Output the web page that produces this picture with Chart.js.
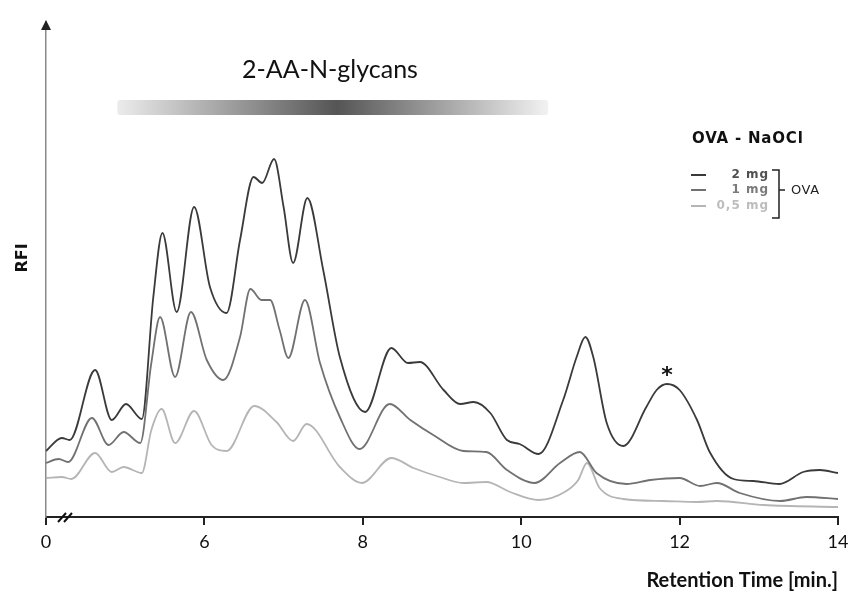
<!DOCTYPE html>
<html>
<head>
<meta charset="utf-8">
<script src="https://cdn.jsdelivr.net/npm/chart.js@4/dist/chart.umd.min.js"></script>
<style>
  html, body { margin: 0; padding: 0; background: #fff; }
  #wrap { width: 848px; height: 593px; }
</style>
</head>
<body>
<div id="wrap"><canvas id="hplcChart" width="848" height="593"></canvas></div>
<script>
// retention time in min; the axis is broken, so 4 is printed as "0"
const rt2mg = [4.0, 4.2, 4.3, 4.62, 4.83, 5.01, 5.21, 5.355, 5.47, 5.65, 5.87, 6.07, 6.28, 6.45, 6.62, 6.73, 6.88, 7.0, 7.12, 7.3, 7.5, 7.71, 8.03, 8.36, 8.57, 8.72, 9.02, 9.23, 9.4, 9.61, 9.82, 9.98, 10.22, 10.53, 10.7, 10.81, 10.91, 11.08, 11.29, 11.58, 11.71, 11.84, 12.0, 12.22, 12.38, 12.68, 12.93, 13.26, 13.56, 13.77, 14.0];
const rfi2mg = [66, 79, 77, 147, 97, 113, 98, 220, 284, 205, 310, 230, 204, 277, 340, 334, 358, 310, 254, 319, 247, 160, 105, 169, 154, 155, 127, 113, 115, 104, 77, 73, 63, 117, 160, 180, 160, 94, 71, 110, 127, 133, 127, 97, 65, 38, 36, 33, 45, 47, 44];

const rt1mg = [4.0, 4.16, 4.28, 4.58, 4.79, 4.98, 5.19, 5.33, 5.44, 5.63, 5.83, 6.03, 6.24, 6.45, 6.58, 6.72, 6.83, 6.95, 7.06, 7.27, 7.46, 7.71, 7.96, 8.34, 8.6, 8.89, 9.27, 9.56, 9.82, 10.17, 10.49, 10.74, 10.95, 11.33, 11.63, 12.0, 12.26, 12.47, 12.76, 13.27, 13.6, 14.0];
const rfi1mg = [54, 58, 55, 99, 72, 85, 74, 154, 200, 140, 205, 157, 137, 180, 228, 217, 217, 187, 159, 217, 154, 100, 68, 113, 97, 82, 66, 65, 47, 34, 54, 65, 44, 33, 37, 39, 31, 34, 24, 16, 20, 18];

const rt05mg = [4.0, 4.2, 4.32, 4.62, 4.83, 4.98, 5.21, 5.33, 5.46, 5.63, 5.87, 6.09, 6.28, 6.63, 6.91, 7.12, 7.29, 7.71, 7.99, 8.36, 8.64, 8.97, 9.27, 9.56, 9.86, 10.22, 10.57, 10.72, 10.83, 10.99, 11.29, 11.79, 12.22, 12.47, 13.06, 14.0];
const rfi05mg = [39, 40, 38, 64, 45, 50, 44, 87, 108, 74, 106, 72, 66, 111, 95, 76, 93, 50, 34, 59, 49, 40, 34, 35, 25, 17, 26, 37, 54, 29, 18, 16, 15, 16, 12, 10];

const tickValues = [4, 6, 8, 10, 12, 14];
const tickLabels = ['0', '6', '8', '10', '12', '14'];
const seriesNames = ['2 mg', '1 mg', '0,5 mg'];
const seriesColors = ['#3a3a3a', '#717171', '#b5b5b5'];
const legendTextColors = ['#505050', '#7a7a7a', '#bdbdbd'];
const markedPeak = { x: 11.84, y: 133 };

function toPoints(xs, ys) {
  return xs.map((x, i) => ({ x: x, y: ys[i] }));
}

const decorations = {
  id: 'decorations',
  afterDraw(chart) {
    const { ctx, chartArea, scales } = chart;
    const x = scales.x, y = scales.y;
    const left = chartArea.left, bottom = chartArea.bottom;
    ctx.save();

    // arrow head on the RFI axis
    ctx.fillStyle = '#222';
    ctx.beginPath();
    ctx.moveTo(left, 20);
    ctx.lineTo(left - 5, 30);
    ctx.lineTo(left + 5, 30);
    ctx.closePath();
    ctx.fill();

    // axis break
    ctx.strokeStyle = '#111';
    ctx.lineWidth = 2;
    [58, 64].forEach(bx => {
      ctx.beginPath();
      ctx.moveTo(bx, bottom + 5);
      ctx.lineTo(bx + 8, bottom - 4);
      ctx.stroke();
    });

    // y title
    ctx.fillStyle = '#111';
    ctx.font = 'bold 16px "DejaVu Sans"';
    ctx.textAlign = 'center';
    ctx.textBaseline = 'middle';
    ctx.translate(23, 258);
    ctx.rotate(-Math.PI / 2);
    ctx.fillText('RFI', 0, 0);
    ctx.setTransform(1, 0, 0, 1, 0, 0);

    // glycan elution window
    const gx0 = x.getPixelForValue(4.9), gx1 = x.getPixelForValue(10.34);
    const grad = ctx.createLinearGradient(gx0, 0, gx1, 0);
    grad.addColorStop(0, '#ececec');
    grad.addColorStop(0.51, '#555555');
    grad.addColorStop(1, '#f2f2f2');
    ctx.fillStyle = grad;
    ctx.beginPath();
    ctx.roundRect(gx0, 100, gx1 - gx0, 15, 3);
    ctx.fill();

    ctx.fillStyle = '#111';
    ctx.font = '25px Lato';
    ctx.textAlign = 'center';
    ctx.textBaseline = 'alphabetic';
    ctx.fillText('2-AA-N-glycans', 330, 78);

    // legend
    ctx.textAlign = 'left';
    ctx.textBaseline = 'middle';
    ctx.font = 'bold 15px "DejaVu Sans"';
    ctx.letterSpacing = '0.8px';
    ctx.fillText('OVA - NaOCl', 692, 139);
    const rows = [175, 190, 206];
    chart.data.datasets.forEach((ds, i) => {
      ctx.strokeStyle = ds.borderColor;
      ctx.lineWidth = 2;
      ctx.beginPath();
      ctx.moveTo(691, rows[i]);
      ctx.lineTo(706, rows[i]);
      ctx.stroke();
      ctx.fillStyle = legendTextColors[i];
      ctx.font = 'bold 12px "DejaVu Sans"';
      ctx.letterSpacing = '1px';
      ctx.textAlign = 'right';
      ctx.fillText(ds.label, 769, rows[i]);
    });
    ctx.strokeStyle = '#222';
    ctx.lineWidth = 1.5;
    ctx.beginPath();
    ctx.moveTo(772, 170);
    ctx.lineTo(779, 170);
    ctx.lineTo(779, 218);
    ctx.lineTo(772, 218);
    ctx.moveTo(779, 190);
    ctx.lineTo(785, 190);
    ctx.stroke();
    ctx.fillStyle = '#222';
    ctx.font = '13px "DejaVu Sans"';
    ctx.letterSpacing = '0.6px';
    ctx.textAlign = 'left';
    ctx.fillText('OVA', 791, 191);
    ctx.letterSpacing = '0px';

    // marked peak
    ctx.fillStyle = '#111';
    ctx.font = 'bold 22px "DejaVu Sans"';
    ctx.textAlign = 'center';
    ctx.fillText('*', x.getPixelForValue(markedPeak.x), y.getPixelForValue(markedPeak.y) - 8);

    ctx.restore();
  }
};

new Chart(document.getElementById('hplcChart'), {
  type: 'line',
  data: {
    datasets: [
      { label: seriesNames[0], data: toPoints(rt2mg, rfi2mg), borderColor: seriesColors[0] },
      { label: seriesNames[1], data: toPoints(rt1mg, rfi1mg), borderColor: seriesColors[1] },
      { label: seriesNames[2], data: toPoints(rt05mg, rfi05mg), borderColor: seriesColors[2] }
    ]
  },
  options: {
    responsive: false,
    animation: false,
    layout: { padding: { top: 22, right: 10, left: 0, bottom: 0 } },
    elements: {
      line: { borderWidth: 1.8, cubicInterpolationMode: 'monotone', fill: false },
      point: { radius: 0 }
    },
    plugins: { legend: { display: false }, tooltip: { enabled: false } },
    scales: {
      x: {
        type: 'linear',
        min: 4,
        max: 14,
        afterFit: s => { s.height = 76; s.paddingLeft = 0; s.paddingRight = 0; },
        afterBuildTicks: s => { s.ticks = tickValues.map(v => ({ value: v })); },
        ticks: {
          padding: 6,
          color: '#111',
          font: { family: 'Lato', size: 18 },
          callback: v => tickLabels[tickValues.indexOf(v)]
        },
        grid: { drawOnChartArea: false, drawTicks: true, tickLength: 8, color: '#222', lineWidth: 2 },
        border: { display: true, color: '#222', width: 2 },
        title: {
          display: true,
          text: 'Retention Time [min.]',
          align: 'end',
          color: '#111',
          font: { family: 'Lato', size: 20, weight: 'bold' },
          padding: { top: 0, bottom: 0 }
        }
      },
      y: {
        min: 0,
        max: 495,
        afterFit: s => { s.width = 46; },
        ticks: { display: false },
        grid: { display: false },
        border: { display: true, color: '#8a8a8a', width: 1.5 }
      }
    }
  },
  plugins: [decorations]
});
</script>
</body>
</html>
